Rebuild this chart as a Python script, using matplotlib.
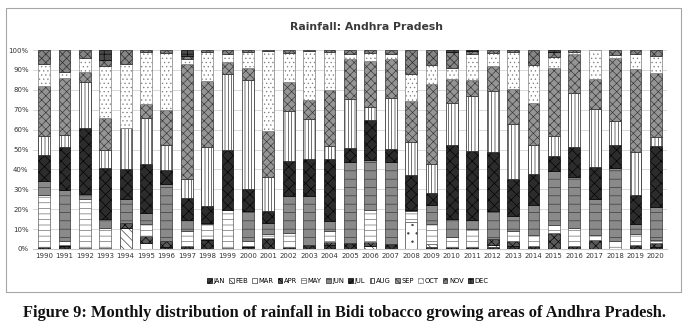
import numpy as np
import matplotlib
matplotlib.use("Agg")
import matplotlib.pyplot as plt
from matplotlib.patches import Rectangle, Patch
from matplotlib.ticker import FuncFormatter

years = list(range(1990, 2021))
months = ["JAN", "FEB", "MAR", "APR", "MAY", "JUN", "JUL", "AUG", "SEP", "OCT", "NOV", "DEC"]

# share of annual rainfall (%) per month, 1990..2020
jan = [1, 1.5, 0.5, 0.5, 0, 0, 1, 1.5, 4.5, 0.5, 1, 5.5, 1, 1.8, 2, 3, 0, 2.7, 0, 1, 1, 1, 1, 1.5, 1.5, 0, 1.5, 0, 0, 2, 1]
feb = [0, 0, 0, 0, 10.5, 0, 0, 0, 0, 0, 0, 0, 0, 0, 0, 0, 1.5, 0, 0, 1.7, 0, 0, 1, 0, 0, 0, 0, 0, 0, 0, 0]
mar = [0, 0, 0, 0, 0, 3, 0, 0, 0, 0, 0, 0, 0, 0, 0, 0, 0, 0, 13.5, 0, 0, 0, 0, 0, 0, 0, 0, 0, 0, 0, 0]
apr = [0, 0.5, 0, 0, 2.5, 3.5, 3, 0, 0.5, 0, 0.5, 0, 0, 0, 1.5, 0, 2, 0, 0, 0, 0, 0, 3, 2.5, 0, 8, 0, 4.3, 0, 0, 2]
may = [26, 2, 24.5, 10, 0, 6, 0, 7.5, 7.5, 19, 2.5, 2.2, 7.2, 0, 5.5, 0, 15.9, 0, 5.5, 10, 5, 9.2, 0, 4.9, 5.5, 4.3, 9, 2.9, 3.9, 5.5, 1.5]
jun = [7, 25.5, 2.5, 4.5, 12, 5.5, 28.5, 5.5, 0.5, 0, 15, 5.2, 18.4, 24.8, 5, 40.7, 25.2, 41, 0.5, 9.6, 8.9, 4.2, 14, 7.7, 15, 27, 25.5, 18.1, 36.8, 5.3, 16.4]
jul = [13, 22, 33.5, 25.5, 15, 24.5, 7, 11, 8.5, 30.5, 11, 6, 17.4, 18.4, 31, 7.1, 20.3, 6.7, 17.5, 5.8, 37.5, 34.7, 30, 18.7, 15.5, 7.2, 15.3, 15.9, 11.7, 14.4, 30.9]
aug = [10, 6, 23, 9.5, 21, 23.5, 13, 9.5, 30, 38, 55, 17.5, 25.5, 20.4, 7, 24.7, 6.3, 25.5, 17, 14.8, 21, 27.8, 30.5, 27.5, 15, 10.4, 27.2, 29.3, 12.1, 21.4, 4.3]
sep = [25, 28.5, 5, 16, 0, 7, 17.5, 58, 33, 6, 6, 23, 14.5, 9.4, 28, 19.8, 23.5, 19.5, 20.5, 40.2, 11.9, 7.9, 12.5, 17.8, 21, 34.3, 19.5, 14.8, 31.5, 41.7, 32.2]
oct_ = [11, 3, 7, 26, 32, 26, 28.5, 2.5, 14.5, 4, 8, 40, 14.5, 24.7, 19, 2.7, 4, 2.6, 13.5, 9.2, 5.7, 13.2, 6.5, 18.6, 19, 5.5, 1.2, 14.7, 1.5, 7.7, 8.7]
nov = [7, 11, 4, 3, 7, 1, 1.5, 1.5, 1, 2, 1, 0.6, 1.5, 0.5, 1, 2, 1.3, 2, 12, 7.7, 8, 1.5, 1.5, 0.8, 7.5, 2.5, 0.8, 0, 2.5, 2, 3]
dec = [0, 0, 0, 5, 0, 0, 0, 3, 0, 0, 0, 0, 0, 0, 0, 0, 0, 0, 0, 0, 1, 0.5, 0, 0, 0, 0.8, 0, 0, 0, 0, 0]
series = [jan, feb, mar, apr, may, jun, jul, aug, sep, oct_, nov, dec]

# (face, hatch, hatch/edge colour) per month, greyscale like the Excel original
styles = [
    ("#3c3c3c", "xxxx", "#000000"),
    ("#ffffff", "\\\\\\\\", "#303030"),
    ("#ffffff", "..", "#404040"),
    ("#5a5a5a", "xxxx", "#000000"),
    ("#ffffff", "---", "#606060"),
    ("#8a8a8a", "--", "#333333"),
    ("#2c2c2c", "xxx", "#000000"),
    ("#ffffff", "|||||", "#202020"),
    ("#959595", "xxxx", "#333333"),
    ("#ffffff", "....", "#808080"),
    ("#858585", "xxxx", "#262626"),
    ("#4a4a4a", "++", "#000000"),
]

plt.rcParams["hatch.linewidth"] = 0.45

fig = plt.figure(figsize=(6.91, 3.36), dpi=100)
ax = fig.add_axes([0.0475, 0.259, 0.9178, 0.592])

x = np.arange(len(years))
bottom = np.zeros(len(years))
for name, vals, (fc, h, ec) in zip(months, series, styles):
    v = np.array(vals, dtype=float)
    ax.bar(x, v, 0.58, bottom=bottom, color=fc, hatch=h, edgecolor=ec,
           linewidth=np.where(v > 0, 0.5, 0), label=name, zorder=3)
    bottom += v

ax.set_xlim(-0.55, len(years) - 0.45)
ax.set_ylim(0, 100)
ax.set_yticks(np.arange(0, 101, 10))
ax.yaxis.set_major_formatter(FuncFormatter(lambda v, _: f"{v:.0f}%"))
ax.set_xticks(x)
ax.set_xticklabels([str(y) for y in years])
for t in ax.get_xticklabels() + ax.get_yticklabels():
    t.set_fontsize(5); t.set_color("#333333")
ax.tick_params(length=0, pad=3)
for s in ["top", "right", "left"]:
    ax.spines[s].set_visible(False)
ax.spines["bottom"].set_color("#c8c8c8")
ax.grid(axis="y", color="#d9d9d9", lw=0.7, zorder=0)
ax.set_axisbelow(True)

handles = [Patch(facecolor=fc, hatch=h, edgecolor=ec, linewidth=0.5) for fc, h, ec in styles]
fig.legend(handles, months, loc="center", bbox_to_anchor=(0.503, 0.164), ncol=12,
           frameon=False, handlelength=0.7, handleheight=0.7, handletextpad=0.25,
           columnspacing=0.6, prop={"size": 4.9})

fig.text(0.53, 0.92, "Rainfall: Andhra Pradesh", ha="center", va="center",
         fontsize=7.8, weight="bold", color="#3a3a3a")

# chart frame and caption
fig.patches.append(Rectangle((0.0087, 0.131), 0.977, 0.845, transform=fig.transFigure,
                             fill=False, edgecolor="#a6a6a6", lw=0.8))
fig.text(0.498, 0.068, "Figure 9: Monthly distribution of rainfall in Bidi tobacco growing areas of Andhra Pradesh.",
         ha="center", va="center", fontsize=11.8, weight="bold",
         family=["Liberation Serif", "DejaVu Serif"], color="#111111")

fig.savefig("out.png", dpi=100)
